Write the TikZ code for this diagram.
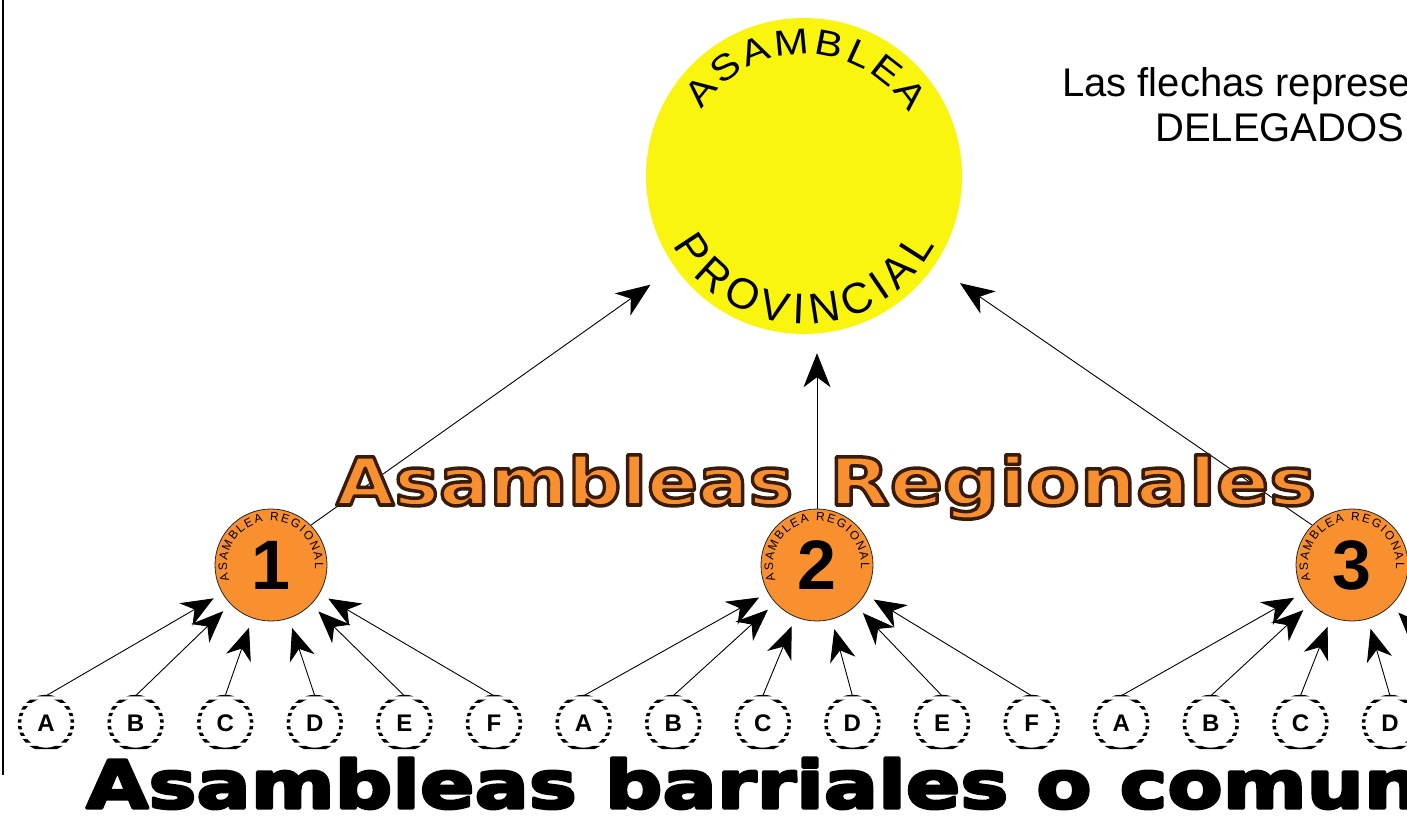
\documentclass[tikz,border=0pt]{standalone}
\usepackage{fontspec}
\setmainfont{Liberation Sans}
\newfontfamily\heavyfont[FakeStretch=1.19]{DejaVu Sans Bold}
\newfontfamily\heavywide[FakeStretch=1.22]{DejaVu Sans Bold}
\newfontfamily\widesans[FakeStretch=1.15]{Liberation Sans}
\usetikzlibrary{arrows.meta,decorations.text,calc}
\definecolor{provyellow}{RGB}{250,245,15}
\definecolor{regorange}{RGB}{248,144,48}
\newcommand\strokedtext[3]{\special{pdf:literal direct q #2 RG #1 w 1 j 2 Tr}#3\special{pdf:literal direct Q}}
\begin{document}
\begin{tikzpicture}[x=1pt,y=1pt,
  arrlow/.style={-{Stealth[length=32pt,width=26pt,inset=10pt]}, line width=0.9pt, shorten >=10pt},
  arrup/.style={-{Stealth[length=34pt,width=27pt,inset=10pt]}, line width=0.9pt},
  barrio/.style={circle, minimum size=54pt, inner sep=0pt, font=\bfseries\fontsize{24}{24}\selectfont},
  region/.style={circle, fill=regorange, draw=black!85, line width=0.8pt, minimum size=112pt, inner sep=0pt, font=\bfseries\fontsize{70}{70}\selectfont},
  ringline/.style={line width=3.5pt},
  bigword/.style={anchor=base west, inner sep=0pt, font=\heavyfont\fontsize{66}{66}\selectfont},
  note/.style={anchor=base west, inner sep=0pt, font=\fontsize{40}{40}\selectfont},
  regtext/.style={decorate, decoration={text along path, text={|\fontsize{12}{12}\selectfont|ASAMBLEA REGIONAL}, text align={fit to path}}},
]
\useasboundingbox (0,0) rectangle (1407,-818);
\fill[white] (0,0) rectangle (1407,-818);

% provincial assembly
\node[circle, fill=provyellow, minimum size=316pt, inner sep=0pt] (prov) at (804,-176) {};
\path[decorate, decoration={text along path, text={|\widesans\fontsize{36}{36}\selectfont|ASAMBLEA}, text align={fit to path}}]
  ($(prov)+(147:122)$) arc[start angle=147, end angle=31, radius=122];
\path[decorate, decoration={text along path, text={|\fontsize{43}{43}\selectfont|PROVINCIAL}, text align={fit to path}}]
  ($(prov)+(208:148)$) arc[start angle=208, end angle=332, radius=148];

% regional assemblies
\node[region] (r1) at (271,-565) {1};
\node[region] (r2) at (817,-565) {2};
\node[region] (r3) at (1352,-565) {3};
\foreach \r in {r1,r2,r3}
  \path[regtext] ($(\r)+(200:44)$) arc[start angle=200, end angle=-5, radius=44];

% arrows regional -> provincial
\draw[arrup, shorten >=30pt] (r1.45) -- (prov);
\draw[arrup, shorten >=19pt] (r2.north) -- (r2.north |- prov.south);
\draw[arrup, shorten >=31pt] (r3.135) -- (prov);

% title of regional level
\node[bigword, text=regorange, xscale=0.955, transform shape] (regA) at (336,-505) {\strokedtext{3.5}{0.22 0.11 0.03}{Asambleas}};
\node[bigword, text=regorange] (regB) at (829,-505) {\strokedtext{3.5}{0.22 0.11 0.03}{Regionales}};

% neighbourhood assemblies
\foreach \n/\x/\l in {b1/46/A,b2/135.6/B,b3/225.2/C,b4/314.8/D,b5/404.4/E,b6/494/F,
                      c1/583.6/A,c2/673.2/B,c3/762.8/C,c4/852.4/D,c5/942/E,c6/1031.6/F,
                      d1/1121.2/A,d2/1210.8/B,d3/1300.4/C,d4/1390/D}
  \node[barrio] (\n) at (\x,-723) {\l};
\coordinate (d5) at (1479.6,-696);

\foreach \n in {b1,b2,b3,b4,b5,b6,c1,c2,c3,c4,c5,c6,d1,d2,d3,d4}{
  \begin{scope}
    \clip \foreach \k in {0,...,9} {($(\n)+(-33,30-\k*6.6)$) rectangle ++(66,-3.3)};
    \draw[ringline] (\n) circle[radius=26.5];
  \end{scope}
}

% arrows neighbourhood -> regional
\foreach \b in {b1,b2,b3,b4,b5,b6} \draw[arrlow] (\b.north) -- (r1);
\foreach \b in {c1,c2,c3,c4,c5,c6} \draw[arrlow] (\b.north) -- (r2);
\foreach \b in {d1,d2,d3,d4} \draw[arrlow] (\b.north) -- (r3);
\draw[arrlow] (d5) -- (r3);

% bottom title
\node[bigword, font=\heavywide\fontsize{66}{66}\selectfont] (bottomtitle) at (86,-808) {\strokedtext{3}{0 0 0}{Asambleas barriales o comuna}};

% note
\node[note] (note1) at (1062,-97) {Las flechas represe};
\node[note] (note2) at (1155,-142) {DELEGADOS};

% left border line
\draw[line width=2pt] (3,0) -- (3,-775);
\end{tikzpicture}
\end{document}
